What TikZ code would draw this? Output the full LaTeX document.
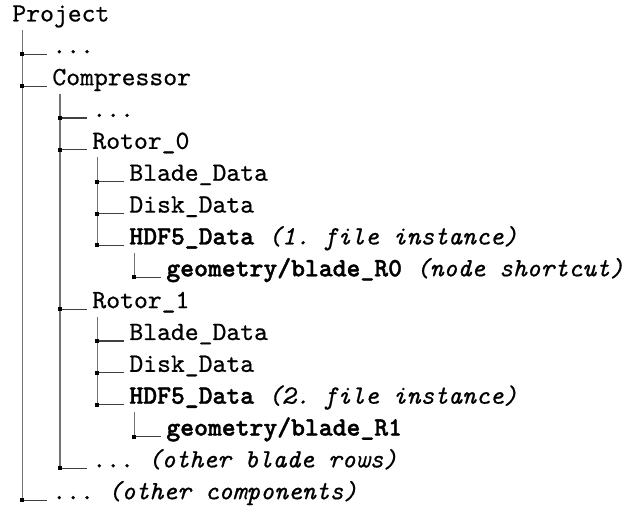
\documentclass[tikz,border=0pt]{standalone}
\usepackage{fontspec}
\setmonofont{lmmono10-regular.otf}[
  BoldFont=lmmonolt10-bold.otf,
  ItalicFont=lmmono10-italic.otf,
  UprightFeatures={FakeBold=0.6},
  ItalicFeatures={FakeBold=0.6},
  BoldFeatures={FakeBold=1.4}]
\begin{document}
\begin{tikzpicture}[x=0.5pt,y=-0.5pt,
  entry/.style={inner xsep=2.5pt, inner ysep=0pt, text depth=4pt, anchor=base west,
    font=\fontsize{13.2pt}{15pt}\selectfont\ttfamily},
  vline/.style={draw=black!55, line width=0.6pt},
  hline/.style={draw=black!75, line width=0.6pt},
  junction/.style={fill=black}]
\useasboundingbox (0,0) rectangle (626,507);

% \treeleaf{name}{x of parent stem}{x of text}{row}{label}
\newcommand\treeleaf[5]{%
  \coordinate (#1-j) at (#2, {22.5+31.85*#4});
  \node[entry] (#1) at ({#3-5}, {21.5+31.85*#4}) {#5};
}

% root
\node[entry] (project) at (7, 21.5) {Project};

% level 1
\treeleaf{dotsA}{22.3}{52}{1}{...}
\treeleaf{comp}{22.3}{52}{2}{Compressor}
\treeleaf{othercomp}{22.3}{52}{15}{... \textit{(other components)}}

% level 2
\treeleaf{dotsB}{60}{92}{3}{...}
\treeleaf{rotor0}{60}{92}{4}{Rotor\_0}
\treeleaf{rotor1}{60}{92}{9}{Rotor\_1}
\treeleaf{otherrows}{60}{92}{14}{... \textit{(other blade rows)}}

% level 3
\treeleaf{blade0}{97.3}{129}{5}{Blade\_Data}
\treeleaf{disk0}{97.3}{129}{6}{Disk\_Data}
\treeleaf{hdf0}{97.3}{129}{7}{\textbf{HDF5\_Data} \textit{(1. file instance)}}
\treeleaf{blade1}{97.3}{129}{10}{Blade\_Data}
\treeleaf{disk1}{97.3}{129}{11}{Disk\_Data}
\treeleaf{hdf1}{97.3}{129}{12}{\textbf{HDF5\_Data} \textit{(2. file instance)}}

% level 4
\treeleaf{geo0}{134.3}{166}{8}{\textbf{geometry/blade\_R0} \textit{(node shortcut)}}
\treeleaf{geo1}{134.3}{166}{13}{\textbf{geometry/blade\_R1}}

% stems from each parent down to its last child
\draw[vline] (othercomp-j |- project.south) -- (othercomp-j);
\draw[vline] (otherrows-j |- comp.south) -- (otherrows-j);
\draw[vline] (hdf0-j |- rotor0.south) -- (hdf0-j);
\draw[vline] (geo0-j |- hdf0.south) -- (geo0-j);
\draw[vline] (hdf1-j |- rotor1.south) -- (hdf1-j);
\draw[vline] (geo1-j |- hdf1.south) -- (geo1-j);

% branches and junction marks
\foreach \n in {dotsA,comp,othercomp,dotsB,rotor0,rotor1,otherrows,
                blade0,disk0,hdf0,blade1,disk1,hdf1,geo0,geo1} {
  \draw[hline] (\n-j) -- (\n-j -| \n.west);
  \fill[junction] (\n-j) ++(-2,-2) rectangle ++(4,4);
}
\end{tikzpicture}
\end{document}
